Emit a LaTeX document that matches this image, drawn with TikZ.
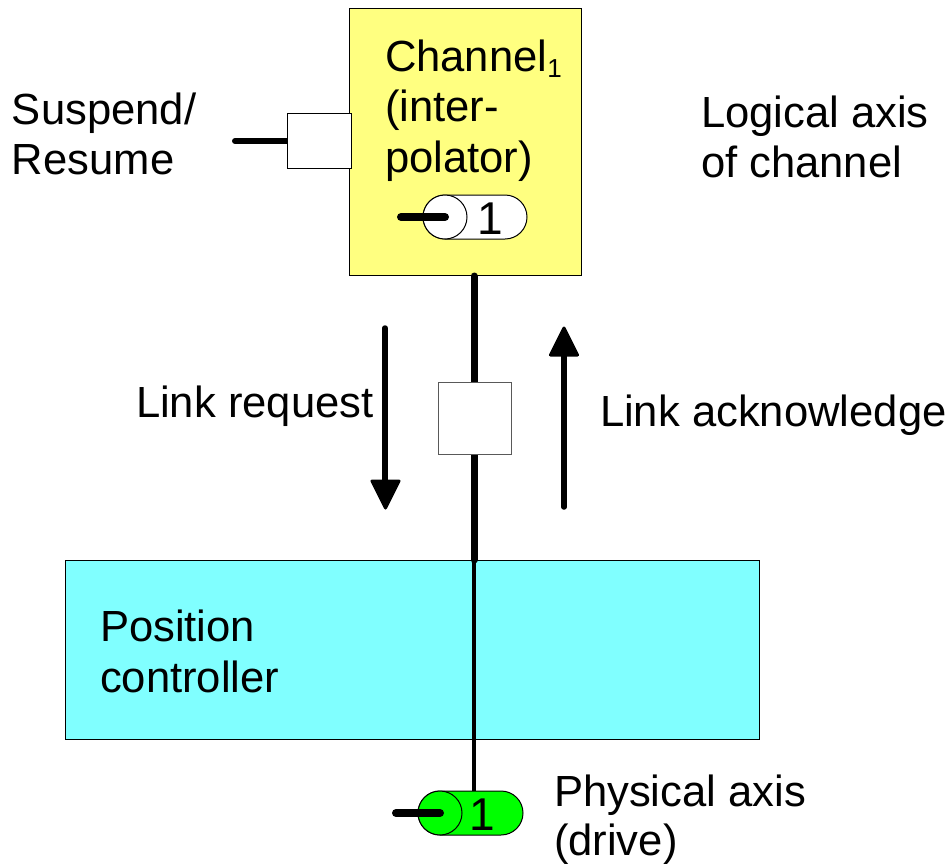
\documentclass[tikz,border=0pt]{standalone}
\usepackage{fontspec}
\setmainfont{Liberation Sans}
\begin{document}
\begin{tikzpicture}[x=1pt,y=-1pt,
  box/.style={draw=black,line width=1pt,inner sep=0pt,outer sep=0pt,anchor=north west},
  label/.style={inner sep=0pt,outer sep=0pt,anchor=base west,font=\fontsize{43.6}{50}\selectfont,align=left},
  heavy/.style={line width=7pt,line cap=round},
  thinshaft/.style={line width=4pt,line cap=round},
  stub/.style={line width=8pt,line cap=round},
  shaft/.style={line width=5.5pt,line cap=round},
  head/.style={fill=black,draw=black,line width=3pt,line join=round}]
\useasboundingbox (0,0) rectangle (951,863);
\definecolor{chanyellow}{HTML}{FFFF80}
\definecolor{poscyan}{HTML}{80FFFF}
\definecolor{drivegreen}{HTML}{00FF00}
% main boxes
\node[box,fill=chanyellow,minimum width=232pt,minimum height=267pt] (channel) at (349,8) {};
\node[box,fill=poscyan,minimum width=694pt,minimum height=179pt] (pos) at (65,560) {};
% connectors (beneath the small boxes)
\coordinate (susp end) at (235,141);
\coordinate (top) at (474,276);
\coordinate (posTop) at (474,560);
\coordinate (linkBot) at (474,446);
\draw[line width=6pt,line cap=round] (susp end) -- (300,141);
\draw[heavy] (top) -- (linkBot) -- (posTop);
\node[box,fill=white,minimum width=64pt,minimum height=55pt] (suspend) at (287,113) {};
\node[box,draw=black!65,fill=white,minimum width=73pt,minimum height=72pt] (link) at (438,382) {};
% cylinders
\draw[line width=1pt,fill=white,rounded corners=22pt] (423,195) rectangle (527,239);
\node[draw=black,line width=1pt,fill=white,circle,minimum size=44pt,inner sep=0pt,outer sep=0pt] (lcyl) at (445,217) {};
\node[inner sep=0pt,font=\fontsize{46}{50}\selectfont] (lone) at (490,219) {1};
\draw[stub] (401,217) -- (lcyl.center);
\draw[thinshaft] (posTop) -- (474,793);
\draw[line width=1pt,fill=drivegreen,rounded corners=22pt] (418,791) rectangle (523,835);
\node[draw=black,line width=1pt,fill=drivegreen,circle,minimum size=44pt,inner sep=0pt,outer sep=0pt] (pcyl) at (440,813) {};
\node[inner sep=0pt,font=\fontsize{46}{50}\selectfont] (pone) at (482,815) {1};
\draw[stub] (396,813) -- (pcyl.center);
% arrows
\coordinate (dnA) at (385,328);
\coordinate (dnB) at (385,482);
\coordinate (upA) at (564,507);
\coordinate (upB) at (564,354);
\draw[shaft] (dnA) -- (dnB);
\draw[head] (372,481) -- (399,481) -- (385.5,508) -- cycle;
\draw[shaft] (upA) -- (upB);
\draw[head] (550.5,355) -- (577.5,355) -- (564,328) -- cycle;
% labels
\node[label] (l1) at (385,71) {Channel\raisebox{-6pt}{\fontsize{26}{26}\selectfont 1}};
\node[label] (l2) at (385,121) {(inter-};
\node[label] (l3) at (385,172) {polator)};
\node[label] (s1) at (12,124) {Suspend/};
\node[label] (s2) at (12,174) {Resume};
\node[label] (a1) at (701,127) {Logical axis};
\node[label] (a2) at (701,177) {of channel};
\node[label] (r) at (136,417) {Link request};
\node[label] (k) at (600,426) {Link acknowledge};
\node[label] (p1) at (100,641) {Position};
\node[label] (p2) at (100,692) {controller};
\node[label] (d1) at (554,806) {Physical axis};
\node[label] (d2) at (554,855) {(drive)};
\end{tikzpicture}
\end{document}
